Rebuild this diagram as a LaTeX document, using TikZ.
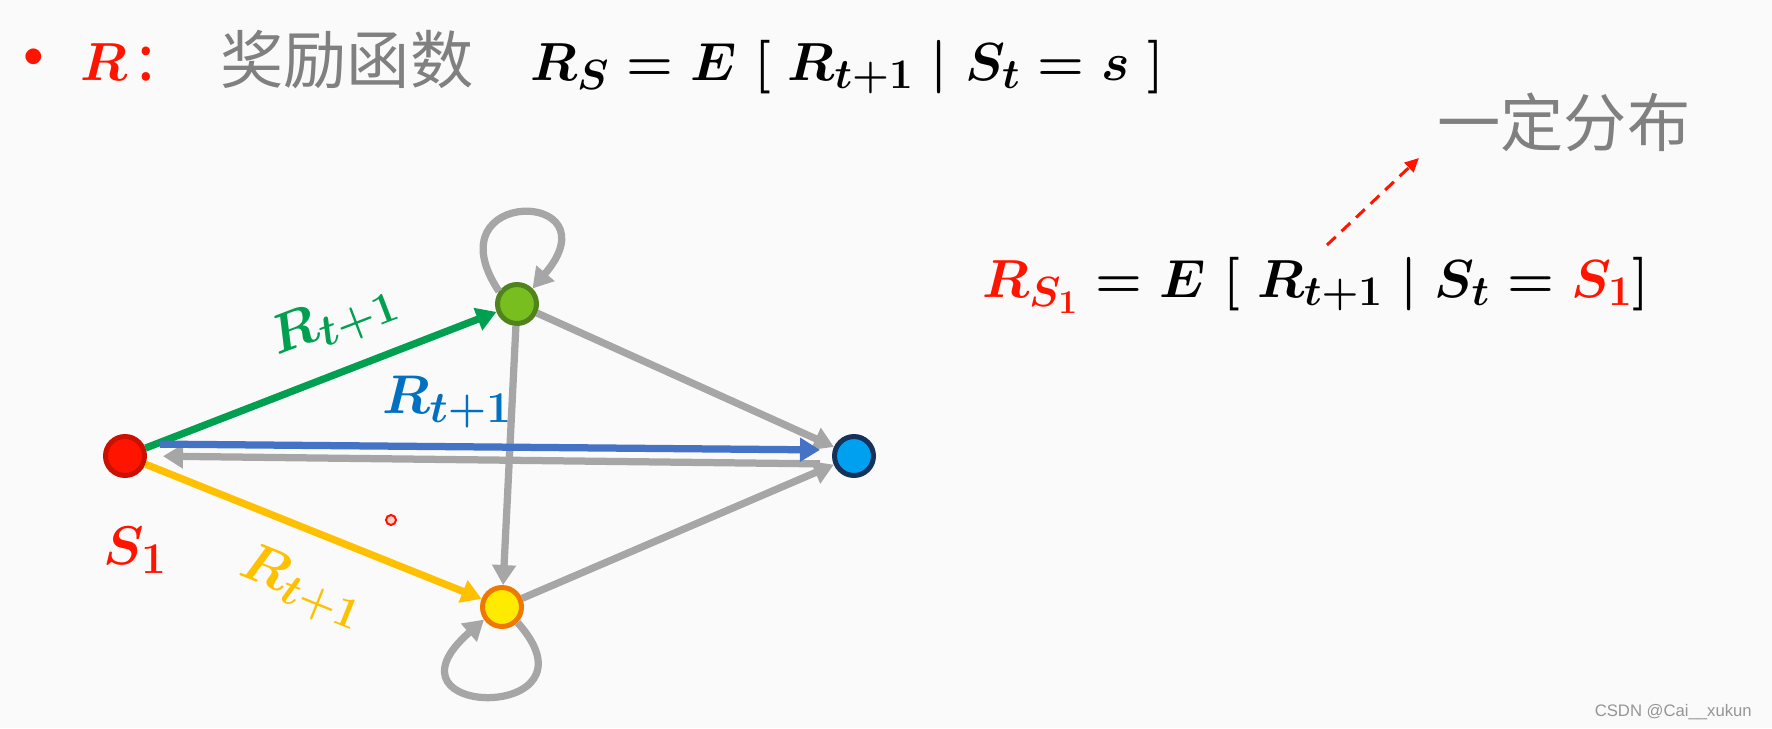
\RequirePackage{fix-cm}
\documentclass[tikz,border=0pt]{standalone}
\usepackage{fontspec}
\usetikzlibrary{arrows.meta,positioning}
\newfontfamily\cjk{Noto Sans CJK SC}
\newfontfamily\wmfont{Liberation Sans}
\DeclareMathSizes{30.5}{30.5}{24}{19}
\DeclareMathSizes{31}{31}{25}{19}
\definecolor{cBg}    {RGB}{250,250,250}
\definecolor{cRed}   {RGB}{255,20,0}
\definecolor{cTitle} {RGB}{128,128,128}
\definecolor{cGreenE}{RGB}{0,160,80}
\definecolor{cBlueE} {RGB}{68,114,196}
\definecolor{cBlueT} {RGB}{0,112,192}
\definecolor{cGold}  {RGB}{255,192,0}
\definecolor{cGray}  {RGB}{166,166,166}
\definecolor{cMark}  {RGB}{150,150,150}

\begin{document}
\begin{tikzpicture}[
    x=0.02cm, y=-0.02cm,
    stat/.style={circle, minimum size=0.78cm, inner sep=0pt, line width=0.1cm},
    trans/.style={-{Triangle[length=0.4cm,width=0.46cm]}, line width=0.145cm},
    formula/.style={font=\fontsize{30.5}{34}\selectfont\boldmath, inner sep=0pt},
    lbl/.style={font=\fontsize{31}{34}\selectfont\boldmath, inner sep=0pt},
    zh/.style={font=\cjk\fontsize{36}{40}\selectfont, text=cTitle, inner sep=0pt},
]
% --- page
\fill[cBg] (0,0) rectangle (1772,728);
\useasboundingbox (0,0) rectangle (1772,728);

% --- heading line
\node[text=cRed, font=\fontsize{40}{42}\selectfont, inner sep=0pt] (bul) at (34,62) {\textbullet};
\node[formula, text=cRed, anchor=base west] (rr) at (80,80) {$R$};
\node[text=cRed, font=\cjk\fontsize{36}{38}\selectfont, anchor=base, inner sep=0pt] (colon) at (146,80) {:};
\node[zh, anchor=west] (title) at (220,60) {奖励函数};
\node[formula, anchor=base west] (rs) at (530,80)
    {$R_S = E\;[\;R_{t+1}\;|\;S_t = s\;]$};

% --- states
\node[stat, fill=cRed, draw=cRed!80!black] (red) at (125,456) {};
\node[stat, fill={rgb,255:red,120;green,190;blue,30}, draw={rgb,255:red,80;green,130;blue,30}] (green) at (517,304) {};
\node[stat, fill={rgb,255:red,0;green,160;blue,240}, draw={rgb,255:red,20;green,50;blue,90}] (blue) at (854,456) {};
\node[stat, fill={rgb,255:red,255;green,235;blue,0}, draw={rgb,255:red,240;green,120;blue,0}] (yellow) at (502,607) {};

% --- transitions
\draw[trans, cGray] (green) -- (yellow);
\draw[trans, cGray] (green) -- (blue);
\draw[trans, cGray] (yellow) -- (blue);
\draw[trans, cGray, shorten <=0.24cm, shorten >=0.32cm] ([yshift=-0.16cm]blue.west) -- (red.east);
\draw[trans, cGreenE] (red) -- (green);
\draw[trans, cBlueE, shorten <=0.26cm, shorten >=0.24cm] ([yshift=0.24cm]red.east) -- ([yshift=0.12cm]blue.west);
\draw[trans, cGold] (red) -- (yellow);
\draw[trans, cGray] (green.145) .. controls +(-70,-105) and +(85,-100) .. (green.45);
\draw[trans, cGray] (yellow.-45) .. controls +(90,100) and +(-115,100) .. (yellow.-145);

% --- labels
\node[lbl, text=cGreenE, rotate=21] (lgreen) at (334,322) {$R_{t+1}$};
\node[lbl, text=cBlueT] (lblue) at (447,402) {$R_{t+1}$};
\node[lbl, text=cGold, rotate=-22] (lgold) at (302,588) {$R_{t+1}$};
\node[lbl, text=cRed] (ls1) at (135,550) {$S_1$};
\node[circle, draw=cRed, fill=cRed!20, line width=0.04cm, minimum size=0.2cm, inner sep=0pt] (ptr) at (391,520) {};

% --- right-hand formula
\node[formula, anchor=base west] (rs1) at (982,297)
    {$\textcolor{cRed}{R_{S_1}} = E\;[\;R_{t+1}\;|\;S_t = \textcolor{cRed}{S_1}]$};
\node[zh, anchor=west] (dist) at (1437,122) {一定分布};
\coordinate (dfrom) at (1327,245);
\coordinate (dto) at (1419,158);
\draw[-{Triangle[length=0.28cm,width=0.26cm]}, cRed, line width=0.06cm, dash pattern=on 0.24cm off 0.16cm] (dfrom) -- (dto);

\node[anchor=east, text=cMark, font=\wmfont\fontsize{9.5}{11}\selectfont] (wm) at (1758,712) {CSDN @Cai\_\_xukun};
\end{tikzpicture}
\end{document}
